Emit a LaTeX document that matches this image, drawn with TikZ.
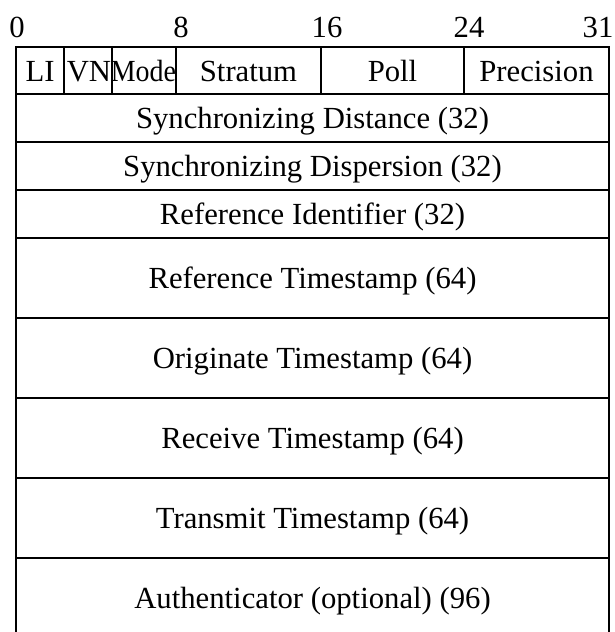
\documentclass[tikz,border=0pt]{standalone}
\usepackage{fontspec}
\setmainfont{Liberation Serif}
\begin{document}
\begin{tikzpicture}[x=1pt,y=-1pt,
  lbl/.style={anchor=base,inner sep=0pt,font=\fontsize{30.7pt}{36pt}\selectfont},
  grid/.style={line width=1.1pt,line cap=rect}]
\useasboundingbox (0,0) rectangle (615,632);
\clip (0,0) rectangle (615,632);
% outer frame and row lines
\draw[grid] (16,47) -- (609,47);
\draw[grid] (16,47) -- (16,650);
\draw[grid] (609,47) -- (609,650);
\foreach \y in {94,142,190,238,318,398,478,558}
  \draw[grid] (16,\y) -- (609,\y);
% field dividers in first row
\foreach \x in {64,112,176,321,464}
  \draw[grid] (\x,47) -- (\x,94);
% bit numbers
\node[lbl] (b0) at (17,37) {0};
\node[lbl] (b8) at (181,37) {8};
\node[lbl] (b16) at (327,37) {16};
\node[lbl] (b24) at (469,37) {24};
\node[lbl] (b31) at (598,37) {31};
% first row fields
\node[lbl] (li) at (40,81) {LI};
\node[lbl] (vn) at (89,81) {VN};
\node[lbl,xscale=0.91] (mode) at (143.5,81) {Mode};
\node[lbl] (stratum) at (248.5,81) {Stratum};
\node[lbl] (poll) at (392.5,81) {Poll};
\node[lbl] (prec) at (536.5,81) {Precision};
% full-width rows
\node[lbl] (sdist) at (312.5,128.5) {Synchronizing Distance (32)};
\node[lbl] (sdisp) at (312.5,176.5) {Synchronizing Dispersion (32)};
\node[lbl] (refid) at (312.5,224.5) {Reference Identifier (32)};
\node[lbl] (refts) at (312.5,288.5) {Reference Timestamp (64)};
\node[lbl] (orgts) at (312.5,368.5) {Originate Timestamp (64)};
\node[lbl] (rcvts) at (312.5,448.5) {Receive Timestamp (64)};
\node[lbl] (xmtts) at (312.5,528.5) {Transmit Timestamp (64)};
\node[lbl] (auth) at (312.5,608) {Authenticator (optional) (96)};
\end{tikzpicture}
\end{document}
